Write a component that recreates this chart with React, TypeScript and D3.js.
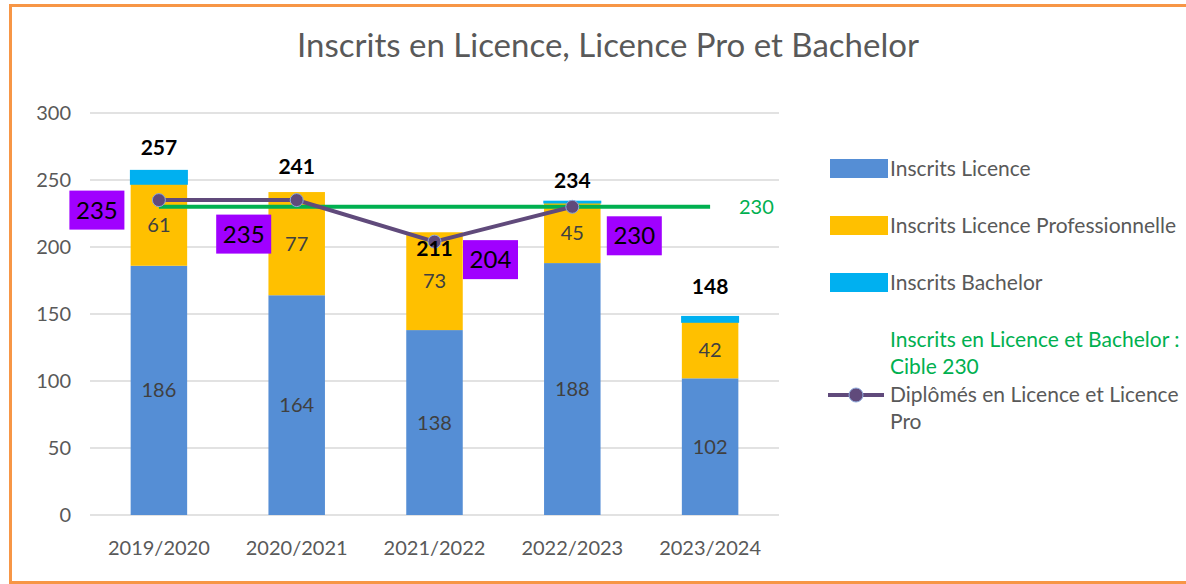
import React from "react";
import * as d3 from "d3";

const categories = ["2019/2020", "2020/2021", "2021/2022", "2022/2023", "2023/2024"];
const licence = [186, 164, 138, 188, 102];
const licencePro = [61, 77, 73, 45, 42];
const bachelor = [10, 0, 0, 1, 4];
const totals = [257, 241, 211, 234, 148];
const diplomes = [235, 235, 204, 230];
const cible = 230;
const yTicks = [0, 50, 100, 150, 200, 250, 300];

const seriesNames = ["Inscrits Licence", "Inscrits Licence Professionnelle", "Inscrits Bachelor"];
const seriesColors = ["#558ED5", "#FFC000", "#00B0F0"];

// label placement offsets (layout)
const diplomeLabelOffsets = [
  [-62, 10],
  [-53, 34],
  [56, 18],
  [62, 29],
];
const totalLabelDy = [-23, -25, 16, -21, -30];

const W = 1186;
const H = 584;
const FONT = "Lato, 'Open Sans', sans-serif";

export default function App() {
  const x = d3.scaleBand<string>().domain(categories).range([90, 779]).paddingInner(0.59).paddingOuter(0.295);
  const y = d3.scaleLinear().domain([0, 300]).range([515, 113]);
  const bw = x.bandwidth();
  const cx = (i: number) => (x(categories[i]) as number) + bw / 2;

  const stackData = categories.map((c, i) => ({ c, l: licence[i], lp: licencePro[i], b: bachelor[i] }));
  const stack = d3.stack<any>().keys(["l", "lp", "b"])(stackData);

  const line = d3
    .line<number>()
    .x((_, i) => cx(i))
    .y((d) => y(d));

  const textGray = "#595959";

  return (
    <svg width={W} height={H} style={{ position: "absolute", left: 0, top: 0, background: "#fff" }} fontFamily={FONT}>
      <rect x={0} y={0} width={W} height={H} fill="#fff" />
      <rect x={10.5} y={5.5} width={W + 20} height={577} fill="none" stroke="#F79646" strokeWidth={3} />
      <text x={608} y={45} dy="0.35em" textAnchor="middle" fontSize={33} fill={textGray}>
        Inscrits en Licence, Licence Pro et Bachelor
      </text>

      {/* gridlines */}
      {yTicks.map((t) => (
        <g key={t}>
          <line x1={90} x2={779} y1={y(t)} y2={y(t)} stroke="#D9D9D9" strokeWidth={1.3} />
          <text x={71} y={y(t)} dy="0.35em" textAnchor="end" fontSize={20} fill={textGray}>
            {t}
          </text>
        </g>
      ))}

      {/* bars */}
      {stack.map((s, si) =>
        s.map((d, i) => {
          const y0 = y(d[0]);
          const y1 = y(d[1]);
          return (
            <rect
              key={`${si}-${i}`}
              x={x(categories[i])}
              y={y1}
              width={bw}
              height={Math.max(0, y0 - y1)}
              fill={seriesColors[si]}
              stroke={si === 2 ? seriesColors[2] : "none"}
              strokeWidth={si === 2 ? 1.5 : 0}
            />
          );
        })
      )}

      {/* segment labels */}
      {categories.map((c, i) => (
        <g key={c} fontSize={20} fill="#404040" textAnchor="middle">
          <text x={cx(i)} y={(y(0) + y(licence[i])) / 2} dy="0.35em">
            {licence[i]}
          </text>
          <text x={cx(i)} y={(y(licence[i]) + y(licence[i] + licencePro[i])) / 2} dy="0.35em">
            {licencePro[i]}
          </text>
        </g>
      ))}

      {/* x labels */}
      {categories.map((c, i) => (
        <text key={c} x={cx(i)} y={548} dy="0.35em" textAnchor="middle" fontSize={20} fill={textGray}>
          {c}
        </text>
      ))}

      {/* target line */}
      <line x1={cx(0)} x2={cx(4)} y1={y(cible)} y2={y(cible)} stroke="#00B050" strokeWidth={4} />
      <text x={739} y={y(cible)} dy="0.35em" fontSize={20} fill="#00B050">
        {cible}
      </text>

      {/* diplomes line */}
      <path d={line(diplomes) as string} fill="none" stroke="#604A7B" strokeWidth={4} />
      {diplomes.map((d, i) => (
        <circle key={i} cx={cx(i)} cy={y(d)} r={6.5} fill="#604A7B" stroke="#8EA9DB" strokeWidth={1} />
      ))}

      {/* diplome labels */}
      {diplomes.map((d, i) => {
        const [dx, dy] = diplomeLabelOffsets[i];
        const lx = cx(i) + dx;
        const ly = y(d) + dy;
        return (
          <g key={i}>
            <rect x={lx - 27.5} y={ly - 19.5} width={55} height={39} fill="#A000FF" />
            <text x={lx} y={ly} dy="0.35em" textAnchor="middle" fontSize={24} fill="#000">
              {d}
            </text>
          </g>
        );
      })}

      {/* totals */}
      {totals.map((t, i) => (
        <text
          key={i}
          x={cx(i)}
          y={y(t) + totalLabelDy[i]}
          dy="0.35em"
          textAnchor="middle"
          fontSize={21}
          fontWeight="bold"
          fill="#000"
        >
          {t}
        </text>
      ))}

      {/* legend */}
      {seriesNames.map((n, i) => (
        <g key={n}>
          <rect x={830} y={159 + i * 57} width={58} height={19} fill={seriesColors[i]} />
          <text x={890} y={169 + i * 57} dy="0.35em" fontSize={21} fill={textGray}>
            {n}
          </text>
        </g>
      ))}
      <text x={890} y={340} dy="0.35em" fontSize={21} fill="#00B050">
        Inscrits en Licence et Bachelor :
      </text>
      <text x={890} y={367} dy="0.35em" fontSize={21} fill="#00B050">
        Cible 230
      </text>
      <line x1={828} x2={884} y1={395} y2={395} stroke="#604A7B" strokeWidth={4} />
      <circle cx={856} cy={395} r={7} fill="#604A7B" stroke="#8EA9DB" strokeWidth={1} />
      <text x={890} y={395} dy="0.35em" fontSize={21} fill={textGray}>
        Diplômés en Licence et Licence
      </text>
      <text x={890} y={422} dy="0.35em" fontSize={21} fill={textGray}>
        Pro
      </text>
    </svg>
  );
}
